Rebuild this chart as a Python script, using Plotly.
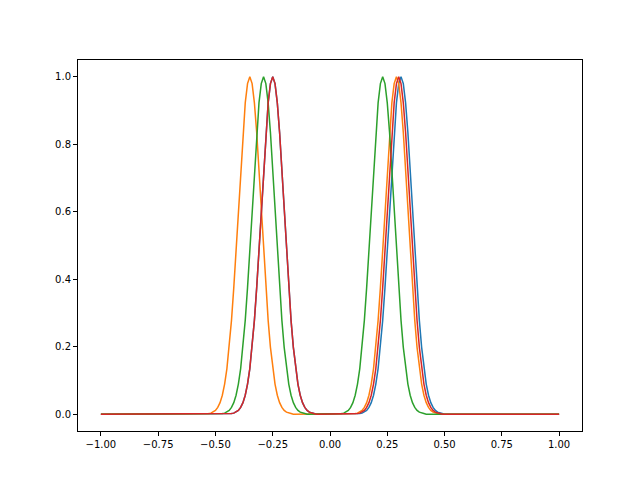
import plotly.graph_objects as go

x = [round(-1 + 0.01 * k, 2) for k in range(201)]
P = [0.002, 0.003, 0.006, 0.011, 0.020, 0.034, 0.056, 0.089, 0.135, 0.198, 0.278,
     0.375, 0.487, 0.607, 0.726, 0.835, 0.923, 0.980, 1.0, 0.980, 0.923, 0.835,
     0.726, 0.607, 0.487, 0.375, 0.278, 0.198, 0.135, 0.089, 0.056, 0.034, 0.020,
     0.011, 0.006, 0.003, 0.002]

blue = [0.0] * 57 + P + [0.0] * 19 + P + [0.0] * 51
orange = [0.0] * 47 + P + [0.0] * 27 + P + [0.0] * 53
green = [0.0] * 53 + P + [0.0] * 15 + P + [0.0] * 59
red = [0.0] * 57 + P + [0.0] * 18 + P + [0.0] * 52

series = [(blue, "#1f77b4"), (orange, "#ff7f0e"), (green, "#2ca02c"), (red, "#d62728")]

fig = go.Figure()
for y, c in series:
    fig.add_trace(go.Scatter(x=x, y=y, mode="lines", line=dict(color=c, width=1.5), showlegend=False))

ax = dict(showgrid=False, zeroline=False, showline=True, linecolor="black", linewidth=1,
          mirror=True, ticks="outside", ticklen=4, tickcolor="black",
          tickfont=dict(family="DejaVu Sans", size=10, color="black"))
fig.update_layout(
    width=640, height=480, plot_bgcolor="white", paper_bgcolor="white",
    margin=dict(l=70, r=66, t=52, b=57),
    xaxis=dict(range=[-1.1, 1.1], tickvals=[-1, -0.75, -0.5, -0.25, 0, 0.25, 0.5, 0.75, 1],
               ticktext=["−1.00", "−0.75", "−0.50", "−0.25", "0.00", "0.25", "0.50", "0.75", "1.00"], **ax),
    yaxis=dict(range=[-0.05, 1.05], tickvals=[0, 0.2, 0.4, 0.6, 0.8, 1.0],
               ticktext=["0.0", "0.2", "0.4", "0.6", "0.8", "1.0"], **ax),
)
fig.write_html("out.html")
